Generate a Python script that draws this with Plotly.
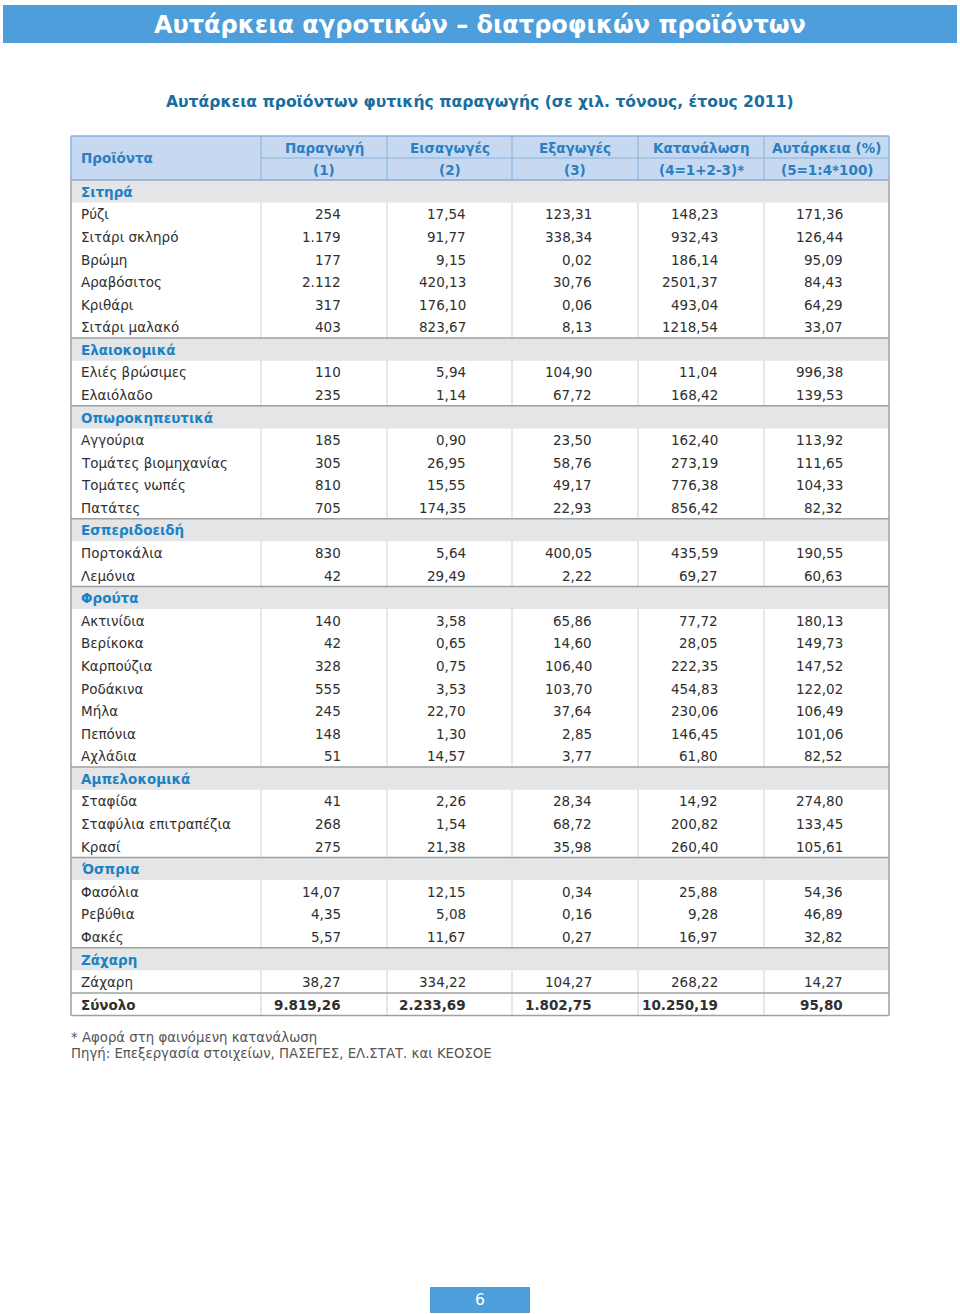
import plotly.graph_objects as go

# ---------------- DATA ----------------
title = "Αυτάρκεια αγροτικών – διατροφικών προϊόντων"
subtitle = "Αυτάρκεια προϊόντων φυτικής παραγωγής (σε χιλ. τόνους, έτους 2011)"
header_top = ["Παραγωγή", "Εισαγωγές", "Εξαγωγές", "Κατανάλωση", "Αυτάρκεια (%)"]
header_bottom = ["(1)", "(2)", "(3)", "(4=1+2-3)*", "(5=1:4*100)"]
first_col_header = "Προϊόντα"

groups = ["Σιτηρά", "Ελαιοκομικά", "Οπωροκηπευτικά", "Εσπεριδοειδή",
          "Φρούτα", "Αμπελοκομικά", "Όσπρια", "Ζάχαρη"]

products = ["Ρύζι", "Σιτάρι σκληρό", "Βρώμη", "Αραβόσιτος", "Κριθάρι", "Σιτάρι μαλακό",
            "Ελιές βρώσιμες", "Ελαιόλαδο",
            "Αγγούρια", "Τομάτες βιομηχανίας", "Τομάτες νωπές", "Πατάτες",
            "Πορτοκάλια", "Λεμόνια",
            "Ακτινίδια", "Βερίκοκα", "Καρπούζια", "Ροδάκινα", "Μήλα", "Πεπόνια", "Αχλάδια",
            "Σταφίδα", "Σταφύλια επιτραπέζια", "Κρασί",
            "Φασόλια", "Ρεβύθια", "Φακές",
            "Ζάχαρη"]
product_group = [0, 0, 0, 0, 0, 0,
                 1, 1,
                 2, 2, 2, 2,
                 3, 3,
                 4, 4, 4, 4, 4, 4, 4,
                 5, 5, 5,
                 6, 6, 6,
                 7]

production = [254, 1179, 177, 2112, 317, 403,
              110, 235,
              185, 305, 810, 705,
              830, 42,
              140, 42, 328, 555, 245, 148, 51,
              41, 268, 275,
              14.07, 4.35, 5.57,
              38.27]
imports = [17.54, 91.77, 9.15, 420.13, 176.10, 823.67,
           5.94, 1.14,
           0.90, 26.95, 15.55, 174.35,
           5.64, 29.49,
           3.58, 0.65, 0.75, 3.53, 22.70, 1.30, 14.57,
           2.26, 1.54, 21.38,
           12.15, 5.08, 11.67,
           334.22]
exports = [123.31, 338.34, 0.02, 30.76, 0.06, 8.13,
           104.90, 67.72,
           23.50, 58.76, 49.17, 22.93,
           400.05, 2.22,
           65.86, 14.60, 106.40, 103.70, 37.64, 2.85, 3.77,
           28.34, 68.72, 35.98,
           0.34, 0.16, 0.27,
           104.27]
consumption = [148.23, 932.43, 186.14, 2501.37, 493.04, 1218.54,
               11.04, 168.42,
               162.40, 273.19, 776.38, 856.42,
               435.59, 69.27,
               77.72, 28.05, 222.35, 454.83, 230.06, 146.45, 61.80,
               14.92, 200.82, 260.40,
               25.88, 9.28, 16.97,
               268.22]
self_sufficiency = [171.36, 126.44, 95.09, 84.43, 64.29, 33.07,
                    996.38, 139.53,
                    113.92, 111.65, 104.33, 82.32,
                    190.55, 60.63,
                    180.13, 149.73, 147.52, 122.02, 106.49, 101.06, 82.52,
                    274.80, 133.45, 105.61,
                    54.36, 46.89, 32.82,
                    14.27]

total_label = "Σύνολο"
totals = [9819.26, 2233.69, 1802.75, 10250.19, 95.80]

footnote = "* Αφορά στη φαινόμενη κατανάλωση"
source = "Πηγή: Επεξεργασία στοιχείων, ΠΑΣΕΓΕΣ, ΕΛ.ΣΤΑΤ. και ΚΕΟΣΟΕ"
page_number = "6"

# ---------------- STYLE ----------------
W, H = 960, 1314
FONT = "DejaVu Sans, Verdana, sans-serif"
BANNER = "#4d9edb"
HEAD_BG = "#c6d9f1"
HEAD_LINE = "#86b2dc"
HEAD_TXT = "#2b7fc0"
CAT_BG = "#e4e5e6"
CAT_TXT = "#1d82c4"
SUB_TXT = "#1a6d9f"
BODY_TXT = "#2f2f2f"
GRID = "#cfcfcf"
RULE = "#a0a0a0"

col_edges = [71, 261, 387, 512, 638, 764, 889]
head_y0, head_mid, head_y1 = 136, 158, 180
row_h = 22.58
right_pad = 46
left_pad = 8


def fmt(v, dec, sep=True):
    s = f"{v:,.{dec}f}" if sep else f"{v:.{dec}f}"
    return s.replace(",", "X").replace(".", ",").replace("X", ".")


def fmt_auto(v):
    return fmt(v, 0 if float(v).is_integer() else 2)


# build row list
rows = []
for gi, g in enumerate(groups):
    rows.append(("cat", g, None))
    for pi, p in enumerate(products):
        if product_group[pi] == gi:
            vals = [fmt_auto(production[pi]), fmt(imports[pi], 2), fmt(exports[pi], 2),
                    fmt(consumption[pi], 2, sep=False), fmt(self_sufficiency[pi], 2)]
            rows.append(("item", p, vals))
rows.append(("total", total_label, [fmt_auto(totals[0])] + [fmt(v, 2) for v in totals[1:]]))

shapes = []
annotations = []


def rect(x0, y0, x1, y1, fill, line=None, lw=0):
    shapes.append(dict(type="rect", xref="x", yref="y", x0=x0, y0=y0, x1=x1, y1=y1,
                       fillcolor=fill, line=dict(color=line or fill, width=lw), layer="below"))


def line(x0, y0, x1, y1, color, width=1):
    shapes.append(dict(type="line", xref="x", yref="y", x0=x0, y0=y0, x1=x1, y1=y1,
                       line=dict(color=color, width=width), layer="above"))


def text(x, y, s, size, color, anchor="center", bold=False, family=FONT):
    annotations.append(dict(xref="x", yref="y", x=x, y=y, text=f"<b>{s}</b>" if bold else s,
                            showarrow=False, xanchor=anchor, yanchor="middle",
                            font=dict(family=family, size=size, color=color)))


# banner
rect(3, 5, 957, 43, BANNER)
text(480, 25, title, 24, "white", bold=True)
# subtitle
text(480, 102, subtitle, 15.6, SUB_TXT, bold=True)

# header
L, R = col_edges[0], col_edges[-1]
rect(L, head_y0, R, head_y1, HEAD_BG)
line(col_edges[1], head_mid, R, head_mid, HEAD_LINE, 1)
for x in col_edges[1:-1]:
    line(x, head_y0, x, head_y1, HEAD_LINE, 1)
line(L, head_y0, R, head_y0, HEAD_LINE, 1.5)
line(L, head_y0, L, head_y1, HEAD_LINE, 1.5)
line(R, head_y0, R, head_y1, HEAD_LINE, 1.5)
text(L + left_pad, (head_y0 + head_y1) / 2, first_col_header, 13.5, HEAD_TXT, anchor="left", bold=True)
for i in range(5):
    cx = (col_edges[i + 1] + col_edges[i + 2]) / 2
    text(cx, (head_y0 + head_mid) / 2 + 0.5, header_top[i], 13.5, HEAD_TXT, bold=True)
    text(cx, (head_mid + head_y1) / 2 + 0.5, header_bottom[i], 13.5, HEAD_TXT, bold=True)

# body
n = len(rows)
body_top = head_y1
body_bot = body_top + n * row_h
for r, (kind, name, vals) in enumerate(rows):
    y0 = body_top + r * row_h
    y1 = y0 + row_h
    yc = (y0 + y1) / 2 + 0.5
    if kind == "cat":
        rect(L, y0, R, y1, CAT_BG)
        text(L + left_pad, yc, name, 13.5, CAT_TXT, anchor="left", bold=True)
        if r > 0:
            line(L, y0, R, y0, RULE, 1.5)
    else:
        for x in col_edges[1:-1]:
            line(x, y0, x, y1, GRID, 1)
        bold = kind == "total"
        if bold:
            line(L, y0, R, y0, RULE, 1.5)
        text(L + left_pad, yc, name, 13.5, BODY_TXT, anchor="left", bold=bold)
        for i, v in enumerate(vals):
            text(col_edges[i + 2] - right_pad + 2, yc, v, 13.5, BODY_TXT, anchor="right", bold=bold)

line(L, head_y1, R, head_y1, "#8fa9c4", 1.5)
line(L, head_y1, L, body_bot, RULE, 1.5)
line(R, head_y1, R, body_bot, RULE, 1.5)
line(L, body_bot, R, body_bot, RULE, 1.5)

# footnotes
text(L - 2, body_bot + 22, footnote, 13.3, "#555555", anchor="left")
text(L - 2, body_bot + 38, source, 13.3, "#555555", anchor="left")

# page number
rect(430, 1287, 530, 1313, BANNER)
text(480, 1300, page_number, 15.5, "white")

fig = go.Figure()
fig.add_trace(go.Scatter(x=[0, W], y=[0, H], mode="markers", marker=dict(opacity=0),
                         hoverinfo="skip", showlegend=False))
fig.update_layout(
    width=W, height=H, margin=dict(l=0, r=0, t=0, b=0),
    paper_bgcolor="white", plot_bgcolor="white",
    xaxis=dict(range=[0, W], visible=False, fixedrange=True),
    yaxis=dict(range=[H, 0], visible=False, fixedrange=True),
    shapes=shapes, annotations=annotations, showlegend=False,
)
fig.write_html("out.html", config={"displayModeBar": False},
               post_script="document.body.style.margin='0';document.body.style.overflow='hidden';")
